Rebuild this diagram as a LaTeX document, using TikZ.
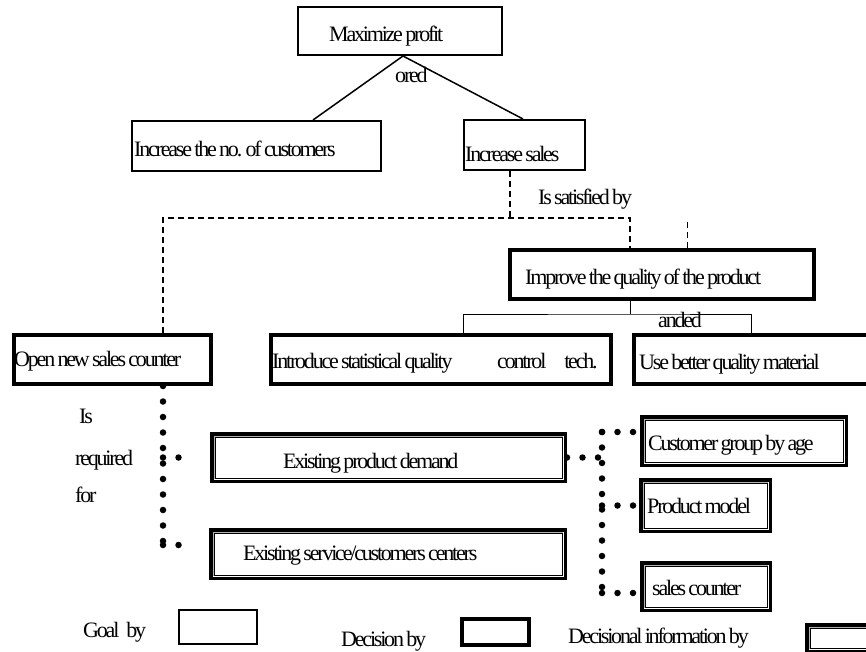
\documentclass[tikz,border=0pt]{standalone}
\usepackage{fontspec}
\setmainfont[LetterSpace=-10, WordSpace=0.7]{Liberation Serif}
\usetikzlibrary{calc}
\tikzset{
  goal/.style={draw, line width=1.6pt, inner sep=0},
  decision/.style={draw, line width=4pt, inner sep=0},
  info/.style={draw, line width=3.5pt, inner sep=0, path picture={
    \draw[gray!60, line width=1pt] ([shift={(2.3pt,-2.3pt)}]path picture bounding box.north west) rectangle ([shift={(-2.3pt,2.3pt)}]path picture bounding box.south east);
    \draw[black, line width=0.7pt] ([shift={(3.2pt,-3.2pt)}]path picture bounding box.north west) rectangle ([shift={(-3.2pt,3.2pt)}]path picture bounding box.south east);
  }},
  txt/.style={font=\fontsize{22pt}{26pt}\selectfont, inner sep=0, anchor=base west},
  solidline/.style={line width=1.5pt},
  thinline/.style={line width=1pt},
  dashline/.style={line width=1.4pt, dash pattern=on 6pt off 4pt},
  thindash/.style={line width=0.8pt, dash pattern=on 6pt off 4pt},
  dotline/.style={line width=6.5pt, line cap=round, dash pattern=on 0pt off 15.5pt},
}
\begin{document}
\begin{tikzpicture}[x=1pt, y=-1pt]
\clip (0,0) rectangle (866,652);
% goal boxes
\node[goal, minimum width=204.4pt, minimum height=48.4pt] (mp) at (400,31) {};
\node[goal, minimum width=249.4pt, minimum height=50.4pt] (ic) at (256.5,146) {};
\node[goal, minimum width=121.4pt, minimum height=50.4pt] (is) at (524.5,145) {};
% decision boxes
\node[decision, minimum width=304pt, minimum height=49pt] (iq) at (662,274.5) {};
\node[decision, minimum width=197pt, minimum height=49pt] (os) at (112.5,359.5) {};
\node[decision, minimum width=340pt, minimum height=49pt] (st) at (441,359.5) {};
\node[decision, minimum width=264pt, minimum height=49pt] (ub) at (766,359.5) {};
% decisional information boxes
\node[info, minimum width=353.5pt, minimum height=47.5pt] (epd) at (388.5,457.5) {};
\node[info, minimum width=354.5pt, minimum height=48.5pt] (esc) at (388,554) {};
\node[info, minimum width=204.5pt, minimum height=48.5pt] (cg) at (744,441) {};
\node[info, minimum width=129.5pt, minimum height=51.5pt] (pm) at (705.5,505.5) {};
\node[info, minimum width=128.5pt, minimum height=47.5pt] (sc) at (706,586.5) {};
% legend boxes
\node[goal, minimum width=78.4pt, minimum height=34.4pt] (lg) at (218,627) {};
\node[decision, minimum width=67pt, minimum height=26pt] (ld) at (495.5,632) {};
\node[info, minimum width=91.5pt, minimum height=26.5pt] (li) at (852.5,638) {};

% texts
\node[txt] (tmp) at (329,42) {Maximize profit};
\node[txt] (tored) at (395,83) {ored};
\node[txt] (tic) at (134,157) {Increase the no. of customers};
\node[txt] (tis) at (465,162) {Increase sales};
\node[txt] (tsat) at (538,205) {Is satisfied by};
\node[txt] (tiq) at (525,284) {Improve the quality of the product};
\node[txt] (tand) at (658,327) {anded};
\node[txt] (tos) at (14,366) {Open new sales counter};
\node[txt] (tst) at (272,368) {\makebox[225pt][l]{Introduce statistical quality}\makebox[67pt][l]{control}tech.};
\node[txt] (tub) at (639,369) {Use better quality material};
\node[txt] (tepd) at (283,468) {Existing product demand};
\node[txt] (tesc) at (243,560) {Existing service/customers centers};
\node[txt] (tcg) at (648,450) {Customer group by age};
\node[txt] (tpm) at (647,513) {Product model};
\node[txt] (tsc) at (652,595) {sales counter};
\node[txt] (tis2) at (79,423) {Is};
\node[txt] (treq) at (75,465) {required};
\node[txt] (tfor) at (75,502) {for};
\node[txt] (tlg) at (83,637) {Goal\hspace{7pt}by};
\node[txt] (tld) at (341,646) {Decision by};
\node[txt] (tli) at (568,643) {Decisional information by};

% ored connectors
\draw[solidline] ([xshift=3pt]mp.south) -- ([xshift=56.5pt]ic.north);
\draw[solidline] ([xshift=3pt]mp.south) -- ([xshift=-1.5pt]is.north);

% satisfied-by dashed connectors
\coordinate (j1) at (510,218);
\coordinate (stub) at (687,222);
\draw[dashline] ([xshift=-14.5pt]is.south) -- (j1);
\draw[dashline] ([xshift=50.5pt]os.north) |- (j1) -| ([xshift=-32pt]iq.north);
\draw[thindash] (stub) -- ([xshift=25pt]iq.north);

% anded connectors
\coordinate (j2) at (630,314);
\draw[thinline] ([xshift=-32pt]iq.south) -- (j2);
\draw[thinline] ([xshift=22pt]st.north) |- (j2) -| ([xshift=-15pt]ub.north);

% required-for dotted connectors
\coordinate (d1) at (163,545);
\draw[dotline] ([xshift=50.5pt]os.south) -- (d1);
\draw[dotline] (d1) -- ([xshift=-17pt]esc.west |- d1);
\draw[dotline] (d1 |- epd.west) -- ([xshift=-17pt]epd.west);

% information dotted connectors
\coordinate (r1) at (602,432);
\coordinate (r3) at (602,593);
\draw[dotline] (epd.east) -- (r1 |- epd.east);
\draw[dotline] (r1) -- (r3);
\draw[dotline] (r1) -- ([xshift=-6pt]cg.west |- r1);
\draw[dotline] (r1 |- pm.west) -- ([xshift=-5pt]pm.west);
\draw[dotline] (r3) -- ([xshift=-6pt]sc.west |- r3);
\end{tikzpicture}
\end{document}
